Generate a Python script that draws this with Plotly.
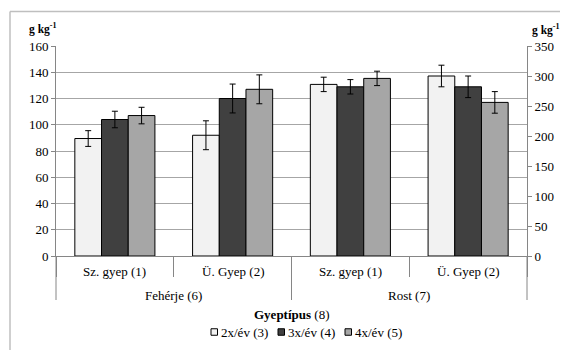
import plotly.graph_objects as go

groups = ["Fehérje (6)", "Rost (7)"]
types = ["Sz. gyep (1)", "Ü. Gyep (2)"]
series = ["2x/év (3)", "3x/év (4)", "4x/év (5)"]
colors = ["#f2f2f2", "#404040", "#a6a6a6"]

feherje = [[89.5, 92], [104, 120], [107, 127]]
feherje_err = [[6, 11], [6.3, 11], [6.3, 11]]
rost = [[286, 300], [282, 282], [296, 256]]
rost_err = [[12, 18], [12, 18], [12, 18]]

FONT = "Liberation Serif"
OFF = 8  # page body margin
W, H = 568 - OFF, 350 - OFF
ML, MR, MT, MB = 56 - OFF, 41, 46 - OFF, 94
PW, PH = W - ML - MR, H - MT - MB
AXC = "#868686"


def px_x(p):
    return (p - OFF - ML) / PW


def px_y(p):
    return (H - MB - (p - OFF)) / PH


fig = go.Figure()
for i, s in enumerate(series):
    fig.add_trace(go.Bar(
        x=[[groups[0]] * 2, types], y=feherje[i], name=s, showlegend=False,
        marker=dict(color=colors[i], line=dict(color="#000000", width=1)),
        error_y=dict(type="data", array=feherje_err[i], color="#000000", thickness=1, width=3),
        yaxis="y",
    ))
for i, s in enumerate(series):
    fig.add_trace(go.Bar(
        x=[[groups[1]] * 2, types], y=rost[i], name=s, showlegend=False,
        marker=dict(color=colors[i], line=dict(color="#000000", width=1)),
        error_y=dict(type="data", array=rost_err[i], color="#000000", thickness=1, width=3),
        yaxis="y2",
    ))

annotations = [
    dict(text="<b>g kg<sup>-1</sup></b>", xref="paper", yref="paper", x=px_x(42.5), y=px_y(28),
         showarrow=False, xanchor="center", yanchor="middle", font=dict(family=FONT, size=11.5)),
    dict(text="<b>g kg<sup>-1</sup></b>", xref="paper", yref="paper", x=px_x(545), y=px_y(29),
         showarrow=False, xanchor="center", yanchor="middle", font=dict(family=FONT, size=11.5)),
    dict(text="<b>Gyeptípus</b> (8)", xref="paper", yref="paper", x=0.5, y=px_y(314),
         showarrow=False, xanchor="center", yanchor="middle", font=dict(family=FONT, size=13)),
]

shapes = [
    dict(type="line", xref="paper", yref="paper", x0=px_x(10), x1=px_x(10), y0=px_y(11.5), y1=px_y(360),
         line=dict(color="#bfbfbf", width=1.5)),
    dict(type="line", xref="paper", yref="paper", x0=px_x(10), x1=px_x(580), y0=px_y(11.5), y1=px_y(11.5),
         line=dict(color="#bfbfbf", width=1.5)),
]

# two-level category labels and group dividers
n_cat = len(groups) * len(types)
for g, gname in enumerate(groups):
    for t, tname in enumerate(types):
        k = g * len(types) + t
        annotations.append(dict(text=tname, xref="paper", yref="paper", x=(k + 0.5) / n_cat, y=px_y(271.5),
                                showarrow=False, xanchor="center", yanchor="middle",
                                font=dict(family=FONT, size=13)))
    annotations.append(dict(text=gname, xref="paper", yref="paper", x=(g + 0.5) / len(groups), y=px_y(295),
                            showarrow=False, xanchor="center", yanchor="middle",
                            font=dict(family=FONT, size=13)))
for g in range(len(groups) + 1):
    xb = g / len(groups)
    shapes.append(dict(type="line", xref="paper", yref="paper", x0=xb, x1=xb, y0=0, y1=px_y(300),
                       line=dict(color=AXC, width=1)))

# compact legend
leg_x0, leg_step, leg_y = 211, 67, 332
for i, s in enumerate(series):
    xa = px_x(leg_x0 + i * leg_step)
    shapes.append(dict(type="rect", xref="paper", yref="paper", xsizemode="pixel", ysizemode="pixel",
                       xanchor=xa, yanchor=px_y(leg_y), x0=0, x1=6.5, y0=-3.25, y1=3.25,
                       fillcolor=colors[i], line=dict(color="#000000", width=1)))
    annotations.append(dict(text=s, xref="paper", yref="paper", x=xa, xshift=7.5, y=px_y(leg_y),
                            showarrow=False, xanchor="left", yanchor="middle",
                            font=dict(family=FONT, size=13)))

fig.update_layout(
    width=W, height=H,
    margin=dict(l=ML, r=MR, t=MT, b=MB, autoexpand=False),
    paper_bgcolor="white", plot_bgcolor="white",
    font=dict(family=FONT, size=13, color="#000000"),
    barmode="group", bargap=0.32, bargroupgap=0,
    showlegend=False,
    xaxis=dict(
        type="multicategory", showline=True, linecolor=AXC, linewidth=1,
        ticks="outside", tickson="boundaries", ticklen=20, tickcolor=AXC,
        showdividers=False, showticklabels=False, automargin=False,
    ),
    yaxis=dict(
        range=[0, 160], dtick=20, showgrid=True, gridcolor="#a6a6a6", gridwidth=1,
        showline=True, linecolor=AXC, linewidth=1,
        ticks="outside", ticklen=4, tickcolor=AXC, zeroline=False,
        tickfont=dict(family=FONT, size=13), automargin=False,
    ),
    yaxis2=dict(
        range=[0, 350], dtick=50, overlaying="y", side="right", showgrid=False,
        showline=True, linecolor=AXC, linewidth=1,
        ticks="outside", ticklen=4, tickcolor=AXC, zeroline=False,
        tickfont=dict(family=FONT, size=13), automargin=False,
    ),
    annotations=annotations,
    shapes=shapes,
)

fig.write_html("out.html")
